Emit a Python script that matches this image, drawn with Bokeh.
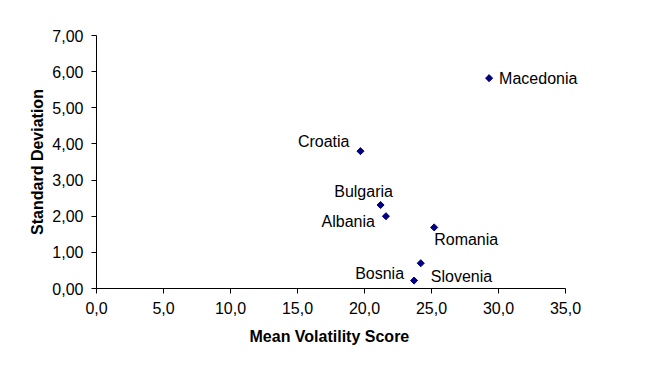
import math
from bokeh.plotting import figure
from bokeh.models import ColumnDataSource, FixedTicker, Range1d, LabelSet, Title
from bokeh.embed import file_html
from bokeh.resources import INLINE
from bokeh.core.properties import value

countries = ["Macedonia", "Croatia", "Bulgaria", "Albania", "Romania", "Slovenia", "Bosnia"]
mean_volatility = [29.3, 19.7, 21.2, 21.6, 25.2, 24.2, 23.7]
std_dev = [5.82, 3.80, 2.31, 2.00, 1.69, 0.70, 0.22]

x_ticks = [0, 5, 10, 15, 20, 25, 30, 35]
x_tick_labels = ["0,0", "5,0", "10,0", "15,0", "20,0", "25,0", "30,0", "35,0"]
y_ticks = [0, 1, 2, 3, 4, 5, 6, 7]
y_tick_labels = ["0,00", "1,00", "2,00", "3,00", "4,00", "5,00", "6,00", "7,00"]
x_title = "Mean Volatility Score"
y_title = "Standard Deviation"

# label placement (style only)
lab_dx = [10, -11, -17, -11, 0, 10, -10]
lab_dy = [0, 10, 14, -5, -12, -13, 7]
lab_align = ["left", "right", "center", "right", "left", "left", "right"]

src = ColumnDataSource(dict(x=mean_volatility, y=std_dev, name=countries,
                            dx=lab_dx, dy=lab_dy, align=lab_align))

# frame extends past the last tick so labels are not clipped; axis drawn only to 35
p = figure(width=634, height=360, output_backend="svg", toolbar_location=None,
           x_range=Range1d(0, 40.15), y_range=Range1d(0, 7),
           min_border_left=96, min_border_right=0, min_border_top=35, min_border_bottom=72)
p.xgrid.visible = False
p.ygrid.visible = False
p.outline_line_color = None

p.scatter("x", "y", source=src, marker="square", angle=math.pi / 4, size=5,
          fill_color="#000080", line_color="#000080")
labels = LabelSet(x="x", y="y", text="name", source=src, x_offset="dx", y_offset="dy",
                  text_align="align", text_baseline="middle", text_font=value("Liberation Sans"),
                  text_font_size=value("16px"), text_color=value("#000000"))
p.add_layout(labels)

for ax in (p.xaxis[0], p.yaxis[0]):
    ax.axis_line_color = "#000000"
    ax.major_tick_line_color = "#000000"
    ax.major_tick_out = 5
    ax.major_tick_in = 0
    ax.minor_tick_line_color = None
    ax.major_label_standoff = 8
    ax.major_label_text_font = "Liberation Sans"
    ax.major_label_text_font_size = "16px"
    ax.major_label_text_color = "#000000"
    ax.axis_label_text_font = "Liberation Sans"
    ax.axis_label_text_font_size = "16px"
    ax.axis_label_text_font_style = "bold"
    ax.axis_label_text_color = "#000000"

p.xaxis.bounds = (0, 35)
p.xaxis.ticker = FixedTicker(ticks=x_ticks)
p.yaxis.ticker = FixedTicker(ticks=y_ticks)
p.xaxis.major_label_overrides = dict(zip(x_ticks, x_tick_labels))
p.yaxis.major_label_overrides = dict(zip(y_ticks, y_tick_labels))
p.yaxis.axis_label = y_title
p.yaxis.axis_label_standoff = 3

xt = Title(text=x_title, align="left", offset=153, standoff=19,
           text_font="Liberation Sans", text_font_size="16px", text_font_style="bold",
           text_color="#000000")
p.add_layout(xt, "below")

open("out.html", "w").write(file_html(p, INLINE))
